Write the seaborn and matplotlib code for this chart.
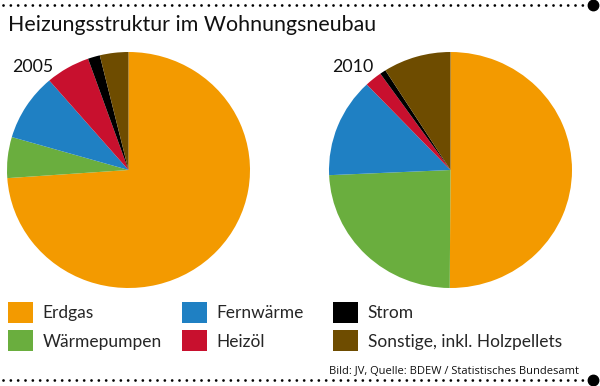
import matplotlib
matplotlib.use("Agg")
import matplotlib.pyplot as plt
from matplotlib.lines import Line2D
import seaborn as sns

sns.set_theme(style="white")
plt.rcParams['font.family'] = ['Lato', 'DejaVu Sans']

# Daten (Anteile in %)
categories = ["Erdgas", "Wärmepumpen", "Fernwärme", "Heizöl", "Strom", "Sonstige, inkl. Holzpellets"]
share_2005 = [73.9, 5.6, 9.2, 5.9, 1.6, 3.8]
share_2010 = [50.1, 24.2, 13.6, 2.3, 0.8, 9.0]
years = ["2005", "2010"]
colors = ["#f39a00", "#6aae3e", "#1f80c3", "#c8102e", "#000000", "#6e4c00"]

W, H = 600, 386
fig = plt.figure(figsize=(W / 100, H / 100), dpi=100)
fig.patch.set_facecolor("white")


def px_axes(cx, cy, rx, ry):
	return fig.add_axes([(cx - rx) / W, 1 - (cy + ry) / H, 2 * rx / W, 2 * ry / H])


def draw_pie(ax, values):
	wedges, _ = ax.pie(values, colors=colors, startangle=90, counterclock=False,
					   wedgeprops=dict(linewidth=0))
	ax.set_xlim(-1, 1)
	ax.set_ylim(-1, 1)
	ax.set_aspect('auto')
	ax.axis('off')
	return wedges


ax1 = px_axes(128.5, 170, 121.5, 118)
wedges = draw_pie(ax1, share_2005)
ax2 = px_axes(450.5, 170, 121.5, 118)
draw_pie(ax2, share_2010)

# Titel und Jahreszahlen
fig.text(8 / W, 1 - 31 / H, "Heizungsstruktur im Wohnungsneubau", fontsize=15.4,
		 va='baseline', ha='left', color='#111111')
fig.text(12 / W, 1 - 72 / H, years[0], fontsize=12.8, va='baseline', ha='left', color='#111111')
fig.text(332 / W, 1 - 72 / H, years[1], fontsize=12.8, va='baseline', ha='left', color='#111111')

# Legende: drei Spalten
col_x = [8, 182, 333]
fs = 12.5
fs_px = fs * 100 / 72
for i, x in enumerate(col_x):
	idx = [2 * i, 2 * i + 1]
	fig.legend([wedges[k] for k in idx], [categories[k] for k in idx],
			   loc='upper left', bbox_to_anchor=(x / W, 1 - 302 / H),
			   frameon=False, fontsize=fs, borderpad=0, borderaxespad=0,
			   handlelength=25 / fs_px, handleheight=1.485,
			   handletextpad=9.5 / fs_px, labelspacing=0.43)

# Quelle
fig.text(579 / W, 1 - 371 / H, "Bild: JV, Quelle: BDEW / Statistisches Bundesamt",
		 fontsize=8, ha='right', va='center', color='#111111',
		 family=['Liberation Sans Narrow', 'Open Sans'])

# gepunktete Linien oben und unten
for y in (5, 380):
	yy = 1 - y / H
	fig.add_artist(Line2D([3 / W, 586 / W], [yy, yy], transform=fig.transFigure,
						  color='black', linewidth=2.0, linestyle=(0, (0.01, 2.63)),
						  dash_capstyle='round'))
	fig.add_artist(Line2D([593 / W], [yy], transform=fig.transFigure, color='black',
						  marker='o', markersize=7.5, linestyle='none'))

fig.savefig("out.png", dpi=100, facecolor="white")
